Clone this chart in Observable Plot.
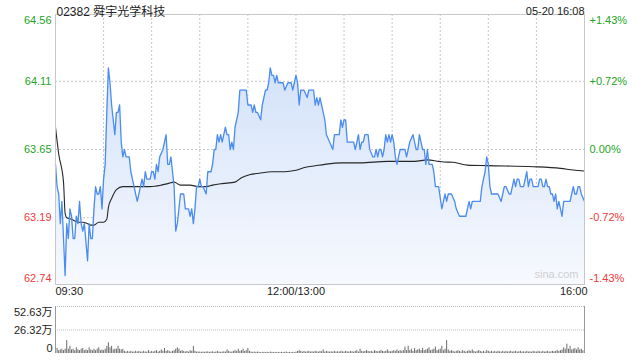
<!DOCTYPE html>
<html>
<head>
<meta charset="utf-8">
<script src="https://cdn.jsdelivr.net/npm/d3@7"></script>
<script src="https://cdn.jsdelivr.net/npm/@observablehq/plot@0.6"></script>
<style>
  html, body { margin: 0; padding: 0; background: #fff; }
  #chart { width: 640px; height: 360px; overflow: hidden; }
  #chart svg { display: block; overflow: visible; }
</style>
</head>
<body>
<div id="chart"></div>
<script>
// ---------- data ----------
const stockTitle = "02382 舜宇光学科技";
const stampText = "05-20 16:08";
const watermark = "sina.com";

const priceTicks = [64.56, 64.11, 63.65, 63.19, 62.74];
const pctLabels = ["+1.43%", "+0.72%", "0.00%", "-0.72%", "-1.43%"];
const tickColors = ["#23a523", "#23a523", "#23a523", "#f03a3a", "#f03a3a"];

const timeTicks = [0, 150, 330];
const timeLabels = ["09:30", "12:00/13:00", "16:00"];
const gridMinutes = [30, 60, 90, 120, 150, 180, 210, 240, 270, 300];

const volTicks = [52.63, 26.32, 0];
const volLabels = ["52.63万", "26.32万", "0"];

// minute offsets from 09:30 (continuous trading minutes) and last price
const priceMinutes = [
  0,1,2,3,4,5,6,7,8,9,10,11,12,13,14,15,16,17,18,20,21,22,23,24,25,26,27,28,29,30,
  31,32,33,34,35,37,38,39,40,41,42,43,44,46,47,48,50,51,53,54,55,56,57,59,60,61,62,63,64,65,
  67,68,69,70,71,72,73,74,75,76,78,80,81,82,83,84,85,86,87,88,89,90,91,92,94,95,97,98,99,100,
  101,102,103,104,105,106,107,108,109,110,111,112,113,114,115,117,119,120,122,123,124,125,126,128,129,130,131,132,133,134,
  135,136,137,138,139,142,143,145,147,148,149,150,151,152,153,155,157,158,160,161,162,163,164,165,166,167,168,169,171,173,
  174,176,177,178,179,180,181,182,184,186,187,189,190,191,192,193,195,196,198,199,200,201,202,203,204,205,206,207,208,209,
  210,211,212,213,214,215,217,218,219,220,221,223,224,225,226,227,228,229,230,231,232,233,234,235,236,237,238,239,241,242,
  243,244,245,247,249,250,252,255,256,258,259,260,263,265,266,267,268,269,270,271,272,274,276,278,279,280,281,283,284,285,
  286,287,288,289,290,292,293,294,295,296,297,298,299,301,302,303,304,305,306,307,308,309,310,311,312,313,314,315,316,317,
  318,320,321,322,323,324,325,326,327,328,330
];
const priceValues = [
  63.55,63.40,63.35,63.15,63.30,63.05,62.80,63.15,63.05,63.25,63.20,63.05,63.05,63.20,63.15,63.30,63.15,63.10,63.15,62.90,63.15,63.05,63.05,63.25,63.40,63.35,63.35,63.40,63.25,63.45,
  63.55,63.90,64.20,64.10,63.95,63.75,63.90,63.90,63.95,63.70,63.60,63.65,63.60,63.60,63.50,63.45,63.35,63.30,63.40,63.45,63.40,63.50,63.45,63.45,63.50,63.50,63.45,63.55,63.50,63.60,
  63.65,63.70,63.75,63.55,63.55,63.60,63.50,63.40,63.10,63.15,63.35,63.35,63.25,63.25,63.25,63.20,63.25,63.15,63.25,63.40,63.40,63.45,63.40,63.40,63.35,63.50,63.50,63.55,63.65,63.65,
  63.75,63.70,63.75,63.70,63.75,63.80,63.75,63.75,63.65,63.70,63.65,63.80,63.85,63.90,64.05,64.05,64.05,63.95,63.95,63.90,63.95,63.90,63.90,63.85,63.95,64.00,64.05,64.05,64.10,64.20,
  64.15,64.15,64.10,64.15,64.10,64.10,64.05,64.10,64.10,64.05,64.10,64.15,64.10,63.95,64.05,64.05,64.00,64.05,64.05,64.05,63.95,64.00,63.95,64.00,63.95,63.90,63.85,63.75,63.70,63.65,
  63.75,63.75,63.75,63.85,63.80,63.85,63.85,63.70,63.70,63.70,63.65,63.75,63.65,63.70,63.70,63.75,63.75,63.65,63.60,63.60,63.65,63.60,63.65,63.65,63.60,63.65,63.75,63.70,63.75,63.70,
  63.75,63.70,63.60,63.55,63.60,63.65,63.65,63.65,63.60,63.65,63.70,63.75,63.70,63.65,63.65,63.75,63.70,63.65,63.65,63.55,63.65,63.55,63.55,63.55,63.50,63.40,63.40,63.40,63.25,63.30,
  63.35,63.30,63.35,63.35,63.30,63.25,63.20,63.20,63.20,63.30,63.25,63.30,63.30,63.30,63.40,63.45,63.50,63.60,63.55,63.40,63.35,63.35,63.35,63.30,63.35,63.40,63.40,63.35,63.35,63.40,
  63.45,63.40,63.45,63.45,63.40,63.40,63.45,63.50,63.40,63.45,63.45,63.40,63.40,63.40,63.45,63.45,63.40,63.40,63.45,63.40,63.40,63.35,63.35,63.30,63.35,63.25,63.30,63.25,63.20,63.30,
  63.30,63.30,63.30,63.35,63.40,63.35,63.35,63.40,63.40,63.35,63.30
];

// average price line
const avgMinutes = [0,2,5,6,7,10,14,17,20,22,24,27,30,32,33,35,38,42,47,53,59,66,70,74,78,84,89,94,98,104,112,116,121,127,135,143,150,156,162,168,178,190,207,224,232,239,242,248,257,269,298,315,323,330];
const avgValues  = [63.80,63.62,63.43,63.22,63.19,63.18,63.16,63.16,63.15,63.14,63.14,63.16,63.16,63.18,63.26,63.32,63.38,63.40,63.40,63.40,63.40,63.41,63.42,63.43,63.41,63.41,63.40,63.40,63.41,63.42,63.43,63.46,63.48,63.49,63.50,63.50,63.51,63.53,63.54,63.55,63.56,63.56,63.57,63.57,63.58,63.57,63.566,63.564,63.545,63.541,63.534,63.523,63.512,63.505];

// volume per minute (万股), index = minute
const volumes = [
  6.4,5.6,3.2,4.0,4.8,3.2,4.8,14.4,4.8,8.0,
  4.0,4.8,3.2,6.4,4.0,3.2,4.8,5.6,3.2,4.0,
  3.2,6.4,4.0,3.2,4.8,3.2,4.8,6.4,3.2,4.0,
  3.2,4.8,8.0,12.0,6.4,8.0,4.0,4.8,4.8,8.0,
  4.8,4.0,4.8,2.4,1.6,2.4,1.6,2.4,1.6,1.6,
  2.4,1.6,2.4,1.6,1.6,2.4,1.6,1.6,3.2,1.6,
  2.4,1.6,2.4,3.2,1.6,2.4,4.0,2.4,5.6,2.4,
  3.2,2.4,1.6,2.4,3.2,4.8,6.4,4.8,2.4,3.2,
  2.4,1.6,2.4,1.6,3.2,2.4,8.0,2.4,1.6,1.6,
  1.6,1.3,1.6,1.3,1.6,1.9,1.3,1.6,1.9,1.3,
  1.6,2.4,1.6,1.3,1.6,1.9,1.6,4.0,2.4,1.6,
  1.6,2.4,3.2,2.4,4.8,2.4,3.2,4.8,2.4,3.2,
  5.6,2.4,1.6,1.3,1.6,1.3,1.6,1.3,1.0,1.3,
  1.3,1.0,1.3,1.0,1.6,1.3,1.0,1.3,1.0,1.3,
  1.0,1.3,1.0,1.3,1.6,1.0,1.3,1.0,1.3,1.0,
  1.6,2.4,3.2,2.4,1.6,2.4,1.6,1.9,2.4,1.6,
  1.9,1.6,2.4,1.9,1.6,2.4,1.9,4.0,1.6,2.4,
  1.9,1.6,1.9,1.6,2.4,1.6,1.9,1.6,2.4,1.9,
  1.6,2.4,1.9,1.6,2.4,1.9,1.6,2.4,3.2,1.6,
  4.8,2.4,1.9,2.4,3.2,2.4,1.9,2.4,1.6,3.2,
  2.4,1.9,2.4,3.2,2.4,1.9,2.4,4.0,2.4,1.9,
  2.4,3.2,2.4,4.0,2.4,3.2,2.4,3.2,7.2,3.2,
  8.0,3.2,4.8,2.4,5.6,3.2,4.0,4.8,3.2,5.6,
  3.2,4.0,4.8,6.4,3.2,4.0,4.8,7.2,3.2,4.0,
  4.8,8.0,3.2,4.8,14.4,4.0,2.4,3.2,2.4,1.6,
  2.4,3.2,2.4,1.6,3.2,2.4,1.6,2.4,3.2,2.4,
  4.0,2.4,1.6,2.4,3.2,2.4,1.6,2.4,1.6,3.2,
  2.4,1.6,2.4,1.6,2.4,1.6,2.4,1.9,1.6,2.4,
  1.6,2.4,1.6,1.9,2.4,1.6,1.9,2.4,1.6,1.9,
  2.4,1.6,1.9,1.6,2.4,1.6,1.9,1.6,2.4,1.9,
  1.6,2.4,1.9,1.6,2.4,1.6,1.9,2.4,1.6,1.9,
  2.4,1.9,2.4,3.2,2.4,3.2,4.0,6.4,4.8,10.4,
  4.8,8.0,4.0,4.8,5.6,4.0,6.4,4.0,4.8,3.2,
  3.2
];

// ---------- build tables ----------
const priceData = priceMinutes.map((t, i) => ({t, p: priceValues[i], base: priceTicks[priceTicks.length - 1]}));
const avgData = avgMinutes.map((t, i) => ({t, p: avgValues[i]}));
const volData = volumes.map((v, t) => ({t, v}));
const tickData = priceTicks.map((p, i) => ({p, label: p.toFixed(2), pct: pctLabels[i], color: tickColors[i], i}));
const timeData = timeTicks.map((t, i) => ({t, label: timeLabels[i], i}));
const volTickData = volTicks.map((v, i) => ({v, label: volLabels[i], i}));

const FONT = "'Liberation Sans', Arial, 'Noto Sans CJK SC', sans-serif";
const W = 640, ML = 55, MR = 56;
const xDomain = [timeTicks[0], timeTicks[timeTicks.length - 1]];

const mainPlot = Plot.plot({
  width: W, height: 300,
  marginLeft: ML, marginRight: MR, marginTop: 14, marginBottom: 16,
  style: {fontFamily: FONT, fontSize: "11px", background: "transparent", overflow: "visible"},
  x: {domain: xDomain, axis: null},
  y: {domain: [priceTicks[priceTicks.length - 1], priceTicks[0]], axis: null},
  color: {type: "identity"},
  marks: [
    Plot.ruleY(tickData.filter(d => d.i > 0 && d.i < 4), {y: "p", stroke: "#c8c8c8", strokeDasharray: "2,2"}),
    Plot.ruleX(gridMinutes, {stroke: "#c8c8c8", strokeDasharray: "2,2"}),
    Plot.areaY(priceData, {x: "t", y1: "base", y2: "p", fill: "url(#priceGrad)", curve: "linear"}),
    Plot.line(avgData, {x: "t", y: "p", stroke: "#262626", strokeWidth: 1.1, curve: "monotone-x"}),
    Plot.line(priceData, {x: "t", y: "p", stroke: "#4a8cf0", strokeWidth: 1.3}),
    Plot.frame({stroke: "#c8c8c8"}),
    // left price labels
    Plot.text(tickData.filter(d => d.i === 0), {y: "p", text: "label", fill: "color", frameAnchor: "left", textAnchor: "end", dx: -4, dy: 6}),
    Plot.text(tickData.filter(d => d.i > 0 && d.i < 4), {y: "p", text: "label", fill: "color", frameAnchor: "left", textAnchor: "end", dx: -4}),
    Plot.text(tickData.filter(d => d.i === 4), {y: "p", text: "label", fill: "color", frameAnchor: "left", textAnchor: "end", dx: -4, dy: -6}),
    // right percent labels
    Plot.text(tickData.filter(d => d.i === 0), {y: "p", text: "pct", fill: "color", frameAnchor: "right", textAnchor: "start", dx: 5, dy: 6}),
    Plot.text(tickData.filter(d => d.i > 0 && d.i < 4), {y: "p", text: "pct", fill: "color", frameAnchor: "right", textAnchor: "start", dx: 5}),
    Plot.text(tickData.filter(d => d.i === 4), {y: "p", text: "pct", fill: "color", frameAnchor: "right", textAnchor: "start", dx: 5, dy: -6}),
    // time labels
    Plot.text(timeData.filter(d => d.i === 0), {x: "t", text: "label", frameAnchor: "bottom", textAnchor: "start", dy: 10, fill: "#222"}),
    Plot.text(timeData.filter(d => d.i === 1), {x: "t", text: "label", frameAnchor: "bottom", textAnchor: "middle", dy: 10, fill: "#222"}),
    Plot.text(timeData.filter(d => d.i === 2), {x: "t", text: "label", frameAnchor: "bottom", textAnchor: "end", dy: 10, dx: 3, fill: "#222"}),
    // title + stamp
    Plot.text([stockTitle], {frameAnchor: "top-left", textAnchor: "start", dy: -7, dx: 1, fontSize: 12, fill: "#222"}),
    Plot.text([stampText], {frameAnchor: "top-right", textAnchor: "end", dy: -7, fill: "#222"}),
    Plot.text([watermark], {frameAnchor: "bottom-right", textAnchor: "end", dx: -6, dy: -7, fill: "#d0d0d0", fontSize: 11})
  ]
});

// gradient for the price area
const svgSel = d3.select(mainPlot.tagName.toLowerCase() === "svg" ? mainPlot : mainPlot.querySelector("svg"));
const grad = svgSel.insert("defs", ":first-child").append("linearGradient")
  .attr("id", "priceGrad").attr("x1", 0).attr("y1", 0).attr("x2", 0).attr("y2", 1);
grad.append("stop").attr("offset", "0%").attr("stop-color", "#d3e2f9");
grad.append("stop").attr("offset", "100%").attr("stop-color", "#f7f9fe");

const volPlot = Plot.plot({
  width: W, height: 60,
  marginLeft: ML, marginRight: MR, marginTop: 6, marginBottom: 7,
  style: {fontFamily: FONT, fontSize: "11px", background: "transparent", overflow: "visible"},
  x: {domain: xDomain, axis: null},
  y: {domain: [volTicks[2], volTicks[0]], axis: null},
  marks: [
    Plot.ruleY(volTickData.filter(d => d.i < 2), {y: "v", stroke: "#bdbdbd", strokeDasharray: "1,1"}),
    Plot.ruleX(volData, {x: "t", y1: 0, y2: "v", stroke: "#6a6a6a", strokeWidth: 1}),
    Plot.ruleX([xDomain[0], xDomain[1]], {stroke: "#9a9a9a"}),
    Plot.text(volTickData.filter(d => d.i === 0), {y: "v", text: "label", frameAnchor: "left", textAnchor: "end", dx: -3, dy: 6, fill: "#222"}),
    Plot.text(volTickData.filter(d => d.i === 1), {y: "v", text: "label", frameAnchor: "left", textAnchor: "end", dx: -3, fill: "#222"}),
    Plot.text(volTickData.filter(d => d.i === 2), {y: "v", text: "label", frameAnchor: "left", textAnchor: "end", dx: -3, dy: -5, fill: "#222"})
  ]
});

const root = document.getElementById("chart");
root.appendChild(mainPlot);
root.appendChild(volPlot);
</script>
</body>
</html>
